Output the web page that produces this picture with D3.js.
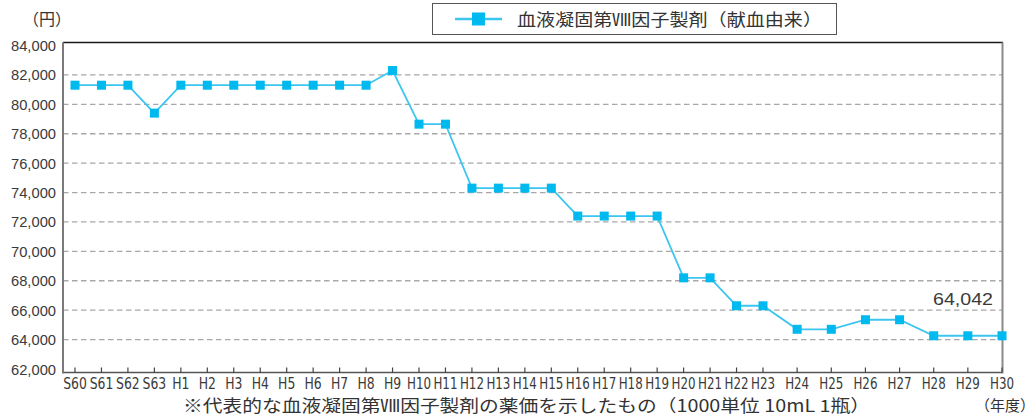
<!DOCTYPE html>
<html>
<head>
<meta charset="utf-8">
<script src="https://cdn.jsdelivr.net/npm/d3@7"></script>
<style>
  body { margin: 0; background: #fff; }
  svg { display: block; }
  .lab { font-family: "Liberation Sans Narrow", "DejaVu Sans Condensed", "Liberation Sans", sans-serif; fill: #3a3a3a; }
  .num { font-family: "Liberation Sans", Arial, sans-serif; fill: #3a3a3a; }
  .jp { font-family: "Noto Sans CJK JP", "Noto Sans", sans-serif; fill: #333; }
</style>
</head>
<body>
<svg width="1036" height="417"></svg>
<script>
// fiscal years (昭和 / 平成)
const years = ['S60','S61','S62','S63','H1','H2','H3','H4','H5','H6','H7','H8','H9','H10',
  'H11','H12','H13','H14','H15','H16','H17','H18','H19','H20','H21','H22','H23','H24',
  'H25','H26','H27','H28','H29','H30'];
// 薬価 (円)
const prices = [81300, 81300, 81300, 79400, 81300, 81300, 81300, 81300, 81300, 81300, 81300, 81300,
  82300, 78650, 78650, 74300, 74300, 74300, 74300, 72400, 72400, 72400, 72400, 68200, 68200,
  66300, 66300, 64700, 64700, 65350, 65350, 64260, 64260, 64260];
const yTicks = [62000, 64000, 66000, 68000, 70000, 72000, 74000, 76000, 78000, 80000, 82000, 84000];
const seriesName = '血液凝固第Ⅷ因子製剤（献血由来）';
const lastLabel = '64,042';
const unitLabel = '（円）';
const xUnitLabel = '（年度）';
const footnote = '※代表的な血液凝固第Ⅷ因子製剤の薬価を示したもの（1000単位 10mL 1瓶）';

const svg = d3.select('svg');
const plotLeft = 63, plotRight = 1002, plotTop = 42.5, plotBottom = 372.5;
const lineColor = '#3cc6ef', markColor = '#00b9ee';

const y = d3.scaleLinear().domain([62000, 84000]).range([369, 45.5]);
// the later years are spread wider in the original, so split the axis at H23
const split = years.indexOf('H23');
const x = d3.scaleLinear()
  .domain([0, split, years.length - 1])
  .range([plotLeft + 12, plotLeft + 700, plotRight]);

// grid
svg.append('g')
  .selectAll('line')
  .data(yTicks.filter(d => d > 62000 && d < 84000))
  .join('line')
  .attr('x1', plotLeft).attr('x2', plotRight)
  .attr('y1', d => y(d)).attr('y2', d => y(d))
  .attr('stroke', '#a8a8a8')
  .attr('stroke-width', 1.3)
  .attr('stroke-dasharray', '5.5,3.5');

// frame
svg.append('line').attr('x1', plotLeft).attr('x2', plotRight + 1).attr('y1', plotTop).attr('y2', plotTop)
  .attr('stroke', '#1a1a1a').attr('stroke-width', 1.3);
svg.append('line').attr('x1', plotLeft).attr('x2', plotRight).attr('y1', plotBottom).attr('y2', plotBottom)
  .attr('stroke', '#555').attr('stroke-width', 1.5);
svg.append('line').attr('x1', plotLeft).attr('x2', plotLeft).attr('y1', plotTop).attr('y2', plotBottom + 1)
  .attr('stroke', '#7a7a7a').attr('stroke-width', 2);
svg.append('line').attr('x1', plotRight + 0.5).attr('x2', plotRight + 0.5).attr('y1', plotTop).attr('y2', plotBottom + 1)
  .attr('stroke', '#8a8a8a').attr('stroke-width', 2);

// x ticks + labels
svg.append('g')
  .selectAll('line')
  .data(years)
  .join('line')
  .attr('x1', (d, i) => x(i)).attr('x2', (d, i) => x(i))
  .attr('y1', plotBottom).attr('y2', plotBottom - 5)
  .attr('stroke', '#444').attr('stroke-width', 1.2);

svg.append('g')
  .selectAll('text')
  .data(years)
  .join('text')
  .attr('class', 'lab')
  .attr('x', (d, i) => x(i))
  .attr('y', 389)
  .attr('text-anchor', 'middle')
  .style('font-size', '16px')
  .text(d => d)
  .each(function() {
    // squeeze a little so neighbours don't collide (original uses a narrow face)
    const w = this.getComputedTextLength();
    const target = Math.min(w * 0.86, 24);
    d3.select(this).attr('textLength', target).attr('lengthAdjust', 'spacingAndGlyphs');
  });

// y labels
svg.append('g')
  .selectAll('text')
  .data(yTicks)
  .join('text')
  .attr('class', 'num')
  .attr('x', 56)
  .attr('y', d => y(d) + 5.5)
  .attr('text-anchor', 'end')
  .style('font-size', '15.5px')
  .attr('textLength', 45)
  .attr('lengthAdjust', 'spacingAndGlyphs')
  .text(d => d3.format(',')(d));

// series
const line = d3.line()
  .x((d, i) => x(i))
  .y(d => y(d));

svg.append('path')
  .datum(prices)
  .attr('fill', 'none')
  .attr('stroke', lineColor)
  .attr('stroke-width', 1.8)
  .attr('d', line);

const ms = 9;
svg.append('g')
  .selectAll('rect')
  .data(prices)
  .join('rect')
  .attr('x', (d, i) => x(i) - ms / 2)
  .attr('y', d => y(d) - ms / 2)
  .attr('width', ms).attr('height', ms)
  .attr('fill', markColor);

// last value annotation
svg.append('text')
  .attr('class', 'num')
  .attr('x', 993).attr('y', 305)
  .attr('text-anchor', 'end')
  .style('font-size', '17px')
  .attr('textLength', 60)
  .attr('lengthAdjust', 'spacingAndGlyphs')
  .text(lastLabel);

// legend
const lg = svg.append('g');
lg.append('rect')
  .attr('x', 432.5).attr('y', 3.5).attr('width', 404).attr('height', 31)
  .attr('fill', '#fff').attr('stroke', '#555').attr('stroke-width', 1);
lg.append('line')
  .attr('x1', 455).attr('x2', 502).attr('y1', 19).attr('y2', 19)
  .attr('stroke', lineColor).attr('stroke-width', 2.5);
lg.append('rect')
  .attr('x', 472).attr('y', 12.5).attr('width', 13).attr('height', 13)
  .attr('fill', markColor);
lg.append('text')
  .attr('class', 'jp')
  .attr('x', 517).attr('y', 25.5)
  .style('font-size', '17px')
  .attr('textLength', 305)
  .attr('lengthAdjust', 'spacingAndGlyphs')
  .text(seriesName);

// other text
svg.append('text').attr('class', 'jp')
  .attr('x', 23).attr('y', 25)
  .style('font-size', '16px')
  .text(unitLabel);

svg.append('text').attr('class', 'jp')
  .attr('x', 1035).attr('y', 411)
  .attr('text-anchor', 'end')
  .style('font-size', '15px')
  .text(xUnitLabel);

svg.append('text').attr('class', 'jp')
  .attr('x', 183).attr('y', 412)
  .style('font-size', '17px')
  .attr('textLength', 687)
  .attr('lengthAdjust', 'spacingAndGlyphs')
  .text(footnote);
</script>
</body>
</html>
